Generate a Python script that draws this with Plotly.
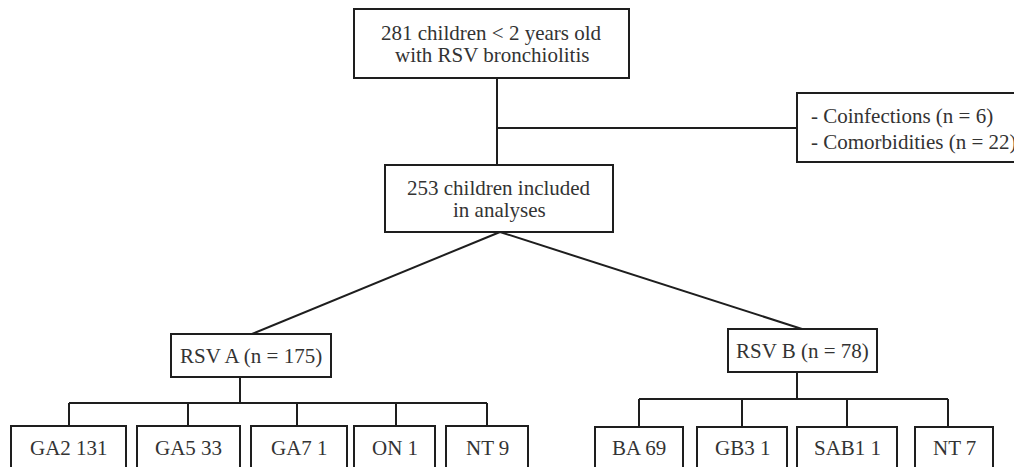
import plotly.graph_objects as go

# ---- data (text content) ----
top_label = ["281 children < 2 years old", "with RSV bronchiolitis"]
excl_label = ["- Coinfections (n = 6)", "- Comorbidities (n = 22)"]
incl_label = ["253 children included", "in analyses"]
group_labels = ["RSV A (n = 175)", "RSV B (n = 78)"]
a_genotypes = ["GA2", "GA5", "GA7", "ON", "NT"]
a_counts = [131, 33, 1, 1, 9]
b_genotypes = ["BA", "GB3", "SAB1", "NT"]
b_counts = [69, 1, 1, 7]

# ---- layout (pixel positions) ----
W, H = 1022, 467
OFF = 8  # page body margin
FONT = "Liberation Serif"
FS = 21
LINE = "#1e1e1e"
TXT = "#333333"

box_top = (354, 9, 629, 78)
box_excl = (797, 93, 1030, 162)
box_incl = (385, 165, 613, 232)
box_A = (171, 334, 331, 377)
box_B = (728, 329, 877, 372)
a_boxes_x = [(11, 126), (137, 240), (251, 347), (354, 435), (446, 528)]
a_stems = [69, 188, 297, 396, 487]
b_boxes_x = [(595, 683), (697, 787), (797, 897), (915, 993)]
b_stems = [639, 742, 847, 948]
child_top_A, child_top_B = 426, 427
child_bottom = 480

shapes = []
annotations = []


def rect(b):
    shapes.append(dict(type="rect", x0=b[0], y0=b[1], x1=b[2], y1=b[3],
                       line=dict(color=LINE, width=2), fillcolor="white", layer="above"))


def seg(x0, y0, x1, y1):
    shapes.append(dict(type="line", x0=x0, y0=y0, x1=x1, y1=y1,
                       line=dict(color=LINE, width=2), layer="below"))


def text(x, y, s, anchor="center"):
    annotations.append(dict(x=x, y=y, text=s, showarrow=False, xanchor=anchor,
                            yanchor="middle", font=dict(family=FONT, size=FS, color=TXT)))


# connectors
seg(497, 78, 497, 165)
seg(497, 128, 797, 128)
seg(500, 232, 252, 334)
seg(500, 232, 802, 329)
seg(240, 377, 240, 403)
seg(a_stems[0], 403, a_stems[-1], 403)
for x in a_stems:
    seg(x, 403, x, child_top_A)
seg(797, 372, 797, 399)
seg(b_stems[0], 399, b_stems[-1], 399)
for x in b_stems:
    seg(x, 399, x, child_top_B)

# boxes
for b in [box_top, box_excl, box_incl, box_A, box_B]:
    rect(b)
for (x0, x1) in a_boxes_x:
    rect((x0, child_top_A, x1, child_bottom))
for (x0, x1) in b_boxes_x:
    rect((x0, child_top_B, x1, child_bottom))

# text
cx = (box_top[0] + box_top[2]) / 2
text(cx, 33, top_label[0])
text(cx, 55, top_label[1])
text(809, 116, excl_label[0], "left")
text(809, 142, excl_label[1], "left")
cx = (box_incl[0] + box_incl[2]) / 2
text(cx, 188, incl_label[0])
text(cx, 210, incl_label[1])
text((box_A[0] + box_A[2]) / 2, (box_A[1] + box_A[3]) / 2, group_labels[0])
text((box_B[0] + box_B[2]) / 2, (box_B[1] + box_B[3]) / 2, group_labels[1])
for (x0, x1), g, c in zip(a_boxes_x, a_genotypes, a_counts):
    text((x0 + x1) / 2, 448, f"{g} {c}")
for (x0, x1), g, c in zip(b_boxes_x, b_genotypes, b_counts):
    text((x0 + x1) / 2, 448, f"{g} {c}")

fig = go.Figure()
fig.add_trace(go.Scatter(x=[OFF, W + OFF], y=[OFF, H + OFF], mode="markers",
                         marker=dict(opacity=0), hoverinfo="skip", showlegend=False))
fig.update_layout(
    width=W, height=H, margin=dict(l=0, r=0, t=0, b=0),
    paper_bgcolor="white", plot_bgcolor="white",
    xaxis=dict(range=[OFF, W + OFF], visible=False, fixedrange=True),
    yaxis=dict(range=[H + OFF, OFF], visible=False, fixedrange=True),
    shapes=shapes, annotations=annotations, showlegend=False,
)
fig.write_html("out.html")
